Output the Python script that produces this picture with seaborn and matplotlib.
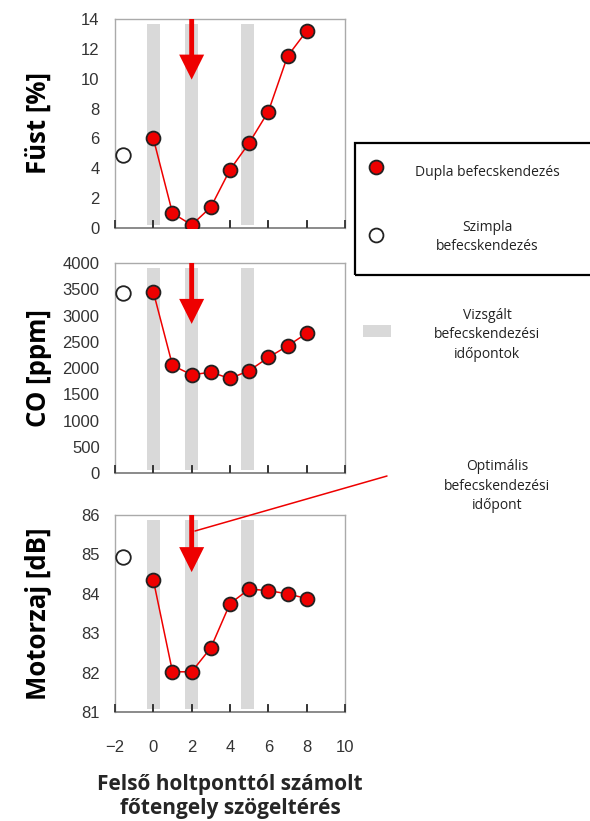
import matplotlib
matplotlib.use("Agg")
import matplotlib.pyplot as plt
import matplotlib.patches as mpatches
from matplotlib.lines import Line2D
import seaborn as sns
import pandas as pd

# ---------------- data ----------------
angle = [0, 1, 2, 3, 4, 5, 6, 7, 8]
smoke_double = [6.0, 1.0, 0.2, 1.4, 3.9, 5.7, 7.8, 11.5, 13.2]
co_double = [3450, 2050, 1870, 1920, 1800, 1950, 2200, 2420, 2660]
noise_double = [84.35, 82.02, 82.02, 82.63, 83.75, 84.12, 84.08, 84.0, 83.88]

single_angle = [-1.6]
smoke_single = [4.9]
co_single = [3420]
noise_single = [84.93]

examined_timings = [0.02, 1.98, 4.9]
optimal_timing = 2

ylabels = ["Füst [%]", "CO [ppm]", "Motorzaj [dB]"]
ylims = [(0, 14), (0, 4000), (81, 86)]
yticks = [list(range(0, 15, 2)), list(range(0, 4001, 500)), [81, 82, 83, 84, 85, 86]]
xticks = [-2, 0, 2, 4, 6, 8, 10]
xlabel = "Felső holtponttól számolt\nfőtengely szögeltérés"
legend_labels = ["Dupla befecskendezés", "Szimpla\nbefecskendezés",
                 "Vizsgált\nbefecskendezési\nidőpontok",
                 "Optimális\nbefecskendezési\nidőpont"]

sns.set_style("white")
plt.rcParams['font.family'] = ['Liberation Sans', 'DejaVu Sans']
plt.rcParams['axes.axisbelow'] = False

W, H = 590, 821
fig = plt.figure(figsize=(W / 100, H / 100), dpi=100)

def fx(px):
    return px / W

def fy(py):
    return 1 - py / H

axes_px = [(115, 19, 345, 228), (115, 263, 345, 473), (115, 515, 345, 712)]
doubles = [smoke_double, co_double, noise_double]
singles = [smoke_single, co_single, noise_single]

RED = "#ee0000"
GRAY_BAR = "#d9d9d9"
label_font = ['Open Sans', 'DejaVu Sans']

axes = []
for i, (l, t, r, b) in enumerate(axes_px):
    ax = fig.add_axes([fx(l), fy(b), fx(r) - fx(l), fy(t) - fy(b)])
    axes.append(ax)
    for c in examined_timings:
        ax.axvspan(c - 0.33, c + 0.33, ymin=0.015, ymax=0.975, color=GRAY_BAR, lw=0, zorder=0)
    df = pd.DataFrame({"x": angle, "y": doubles[i]})
    sns.lineplot(data=df, x="x", y="y", ax=ax, color=RED, lw=1.1, marker="o",
                 markersize=10, markerfacecolor=RED, markeredgecolor="#222222",
                 markeredgewidth=1.3, zorder=3)
    dfs = pd.DataFrame({"x": single_angle, "y": singles[i]})
    sns.scatterplot(data=dfs, x="x", y="y", ax=ax, s=110, facecolor="white",
                    edgecolor="#222222", linewidth=1.3, zorder=3, clip_on=False)
    ax.set_xlim(-2, 10)
    ax.set_ylim(*ylims[i])
    ax.set_yticks(yticks[i])
    ax.set_xticks(xticks)
    if i < 2:
        ax.set_xticklabels([])
    ax.tick_params(axis="x", bottom=True, direction="in", length=6, width=1.3,
                   color="#333333", labelsize=12, labelcolor="#333333", pad=20)
    # inward tick marks drawn explicitly at the tick positions
    ax.vlines(xticks[1:-1], 0, 0.035, transform=ax.get_xaxis_transform(),
              color="#444444", lw=1.1, zorder=2)
    ax.tick_params(axis="y", left=False, length=0, labelsize=12, labelcolor="#333333", pad=11)
    for s in ["top", "right", "left"]:
        ax.spines[s].set_color("#aaaaaa")
        ax.spines[s].set_linewidth(1.0)
    ax.spines["bottom"].set_color("#777777")
    ax.spines["bottom"].set_linewidth(1.2)
    ax.set_xlabel("")
    ax.set_ylabel(ylabels[i], fontsize=18.5, fontweight="bold", family=label_font,
                  color="black")
    ax.yaxis.set_label_coords(-0.275, 0.5)
    # optimal arrow
    ax.annotate("", xy=(optimal_timing, 0.71), xytext=(optimal_timing, 1.0),
                xycoords=("data", "axes fraction"), textcoords=("data", "axes fraction"),
                arrowprops=dict(facecolor=RED, edgecolor="none", width=3.5,
                                headwidth=18, headlength=18, shrink=0),
                zorder=4)

axes[2].set_xlabel(xlabel, fontsize=15, fontweight="bold", family=label_font,
                   labelpad=14, linespacing=1.15)

# ---------------- legend / annotations ----------------
fig.add_artist(mpatches.Rectangle((fx(355), fy(275)), fx(600) - fx(355), fy(143) - fy(275),
                                  transform=fig.transFigure, fill=False,
                                  edgecolor="black", lw=1.6))
fig.add_artist(Line2D([fx(376)], [fy(167)], marker="o", markersize=10,
                      markerfacecolor=RED, markeredgecolor="#222222",
                      markeredgewidth=1.3, transform=fig.transFigure))
fig.add_artist(Line2D([fx(376)], [fy(235)], marker="o", markersize=10,
                      markerfacecolor="white", markeredgecolor="#222222",
                      markeredgewidth=1.3, transform=fig.transFigure))
fig.add_artist(mpatches.Rectangle((fx(363), fy(337)), fx(391) - fx(363), fy(325) - fy(337),
                                  transform=fig.transFigure, color=GRAY_BAR, lw=0))
fig.add_artist(Line2D([fx(195), fx(387)], [fy(531), fy(476)], color=RED, lw=1.1,
                      transform=fig.transFigure))

legend_font = ['Open Sans', 'DejaVu Sans']
fig.text(fx(487), fy(173), legend_labels[0], ha="center", va="center", fontsize=10,
         family=legend_font, color="#222222")
fig.text(fx(487), fy(237), legend_labels[1], ha="center", va="center", fontsize=10,
         family=legend_font, color="#222222", linespacing=1.4)
fig.text(fx(487), fy(335), legend_labels[2], ha="center", va="center", fontsize=10,
         family=legend_font, color="#222222", linespacing=1.4)
fig.text(fx(497), fy(486), legend_labels[3], ha="center", va="center", fontsize=10,
         family=legend_font, color="#222222", linespacing=1.4)

fig.savefig("out.png", dpi=100)
